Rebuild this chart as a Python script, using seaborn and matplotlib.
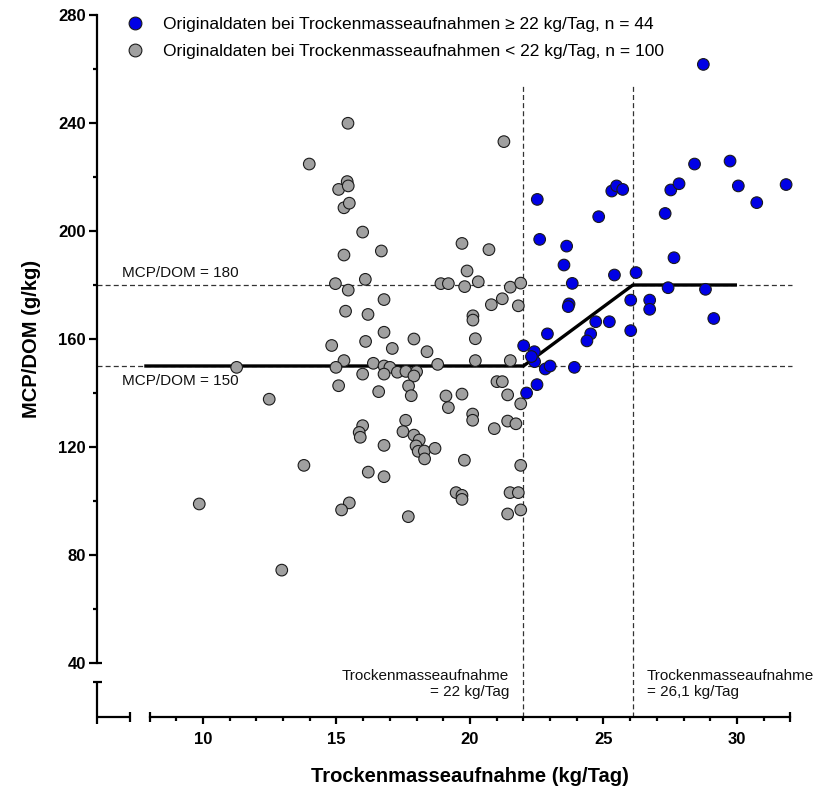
import numpy as np
import pandas as pd
import matplotlib
matplotlib.use("Agg")
import matplotlib.pyplot as plt
import seaborn as sns

# ---------------- data ----------------
gray_x = [15.43, 13.98, 15.40, 15.08, 15.44, 15.28, 15.48, 21.27, 15.98, 15.28,
          16.68, 19.70, 20.71, 14.96, 16.08, 15.44, 18.91, 19.19, 19.89, 19.80,
          20.31, 21.51, 21.90, 16.78, 15.34, 16.18, 20.80, 21.21, 21.81, 20.11,
          20.11, 16.78, 17.90, 20.20, 16.09, 14.82, 17.09, 18.39, 15.28, 14.98,
          16.38, 16.78, 17.00, 15.98, 16.78, 17.28, 17.60, 18.00, 17.90, 18.79,
          20.20, 21.51, 15.08, 16.58, 17.70, 17.80, 21.01, 21.21, 21.41, 19.10,
          19.70, 19.19, 21.90, 20.10, 20.10, 17.59, 17.49, 17.90, 18.10, 17.98,
          18.06, 18.29, 18.30, 18.69, 15.98, 15.85, 15.89, 16.78, 20.91, 21.41,
          21.72, 19.79, 21.90, 16.19, 16.78, 19.48, 19.70, 19.70, 21.50, 21.81,
          21.90, 21.41, 15.48, 15.19, 17.69, 11.26, 12.48, 13.78, 9.86, 12.95]
gray_y = [239.9, 224.8, 218.3, 215.4, 216.7, 208.6, 210.3, 233.1, 199.6, 191.1,
          192.6, 195.4, 193.1, 180.5, 182.1, 178.1, 180.5, 180.5, 185.2, 179.4,
          181.2, 179.2, 180.7, 174.6, 170.3, 169.1, 172.7, 174.9, 172.3, 168.6,
          167.0, 162.5, 160.0, 160.1, 159.1, 157.6, 156.5, 155.3, 152.0, 149.5,
          151.0, 150.0, 149.5, 147.0, 147.0, 147.7, 148.0, 147.9, 146.3, 150.6,
          152.0, 152.0, 142.7, 140.5, 142.6, 139.0, 144.2, 144.2, 139.3, 138.9,
          139.6, 134.6, 136.0, 132.2, 129.9, 129.9, 125.7, 124.4, 122.6, 120.4,
          118.4, 118.5, 115.6, 119.5, 127.9, 125.4, 123.6, 120.6, 126.8, 129.6,
          128.6, 115.1, 113.2, 110.7, 109.0, 103.1, 102.1, 100.6, 103.1, 103.1,
          96.7, 95.2, 99.3, 96.7, 94.2, 149.5, 137.7, 113.2, 98.9, 74.4]

blue_x = [22.52, 22.61, 23.62, 23.52, 23.83, 23.71, 23.68, 24.82, 25.31, 25.49,
          25.72, 25.41, 26.22, 26.02, 26.02, 24.71, 25.22, 24.52, 24.38, 22.90,
          22.01, 22.41, 22.42, 22.30, 22.82, 23.00, 23.91, 22.51, 22.12, 28.74,
          28.41, 29.74, 30.05, 31.84, 30.74, 27.52, 27.83, 27.31, 27.64, 27.42,
          28.82, 26.73, 26.73, 29.13]
blue_y = [211.7, 196.9, 194.4, 187.4, 180.6, 173.0, 172.0, 205.3, 214.8, 216.7,
          215.4, 183.7, 184.6, 174.4, 163.1, 166.4, 166.4, 161.9, 159.3, 161.9,
          157.5, 155.3, 151.6, 153.5, 148.9, 150.0, 149.5, 143.1, 140.0, 261.7,
          224.8, 225.9, 216.7, 217.2, 210.5, 215.2, 217.5, 206.5, 190.1, 179.0,
          178.4, 174.4, 171.0, 167.6]

label_hi = "Originaldaten bei Trockenmasseaufnahmen \u2265 22 kg/Tag, n = 44"
label_lo = "Originaldaten bei Trockenmasseaufnahmen < 22 kg/Tag, n = 100"

fit_x = [7.8, 22.0, 26.1, 30.0]
fit_y = [150, 150, 180, 180]
ref_levels = [180, 150]
ref_labels = ["MCP/DOM = 180", "MCP/DOM = 150"]
break_x = [22.0, 26.1]
break_labels = ["Trockenmasseaufnahme\n= 22 kg/Tag", "Trockenmasseaufnahme\n= 26,1 kg/Tag"]

x_major = [10, 15, 20, 25, 30]
x_minor = [9, 11, 12, 13, 14, 16, 17, 18, 19, 21, 22, 23, 24, 26, 27, 28, 29, 31]
y_major = [40, 80, 120, 160, 200, 240, 280]
y_minor = [60, 100, 140, 180, 220, 260]

# ---------------- style ----------------
sns.set_theme(style="ticks")
plt.rcParams["font.family"] = ["Liberation Sans", "DejaVu Sans"]
plt.rcParams["text.color"] = "black"
plt.rcParams["axes.labelcolor"] = "black"
plt.rcParams["xtick.color"] = "black"
plt.rcParams["ytick.color"] = "black"

W, H = 831, 788
fig = plt.figure(figsize=(W / 100, H / 100), dpi=100)
L, R, T, B = 97, 800, 15, 717
ax = fig.add_axes([L / W, 1 - B / H, (R - L) / W, (B - T) / H])

x0, x1 = 6.03, 32.36
y0, y1 = 20.0, 280.0
ax.set_xlim(x0, x1)
ax.set_ylim(y0, y1)
px_x = (x1 - x0) / (R - L)
px_y = (y1 - y0) / (B - T)

df = pd.DataFrame({
    "x": gray_x + blue_x,
    "y": gray_y + blue_y,
    "grp": [label_lo] * len(gray_x) + [label_hi] * len(blue_x),
})

dash_kw = dict(color="#333333", lw=0.9, linestyle=(0, (4, 2.5)), zorder=1)
for lv in ref_levels:
    ax.hlines(lv, x0, 32.05, **dash_kw)
for bx in break_x:
    ax.vlines(bx, y0, 254, **dash_kw)

ax.plot(fit_x, fit_y, color="black", lw=2.4, zorder=2, solid_capstyle="butt")

sns.scatterplot(data=df, x="x", y="y", hue="grp", hue_order=[label_hi, label_lo],
                palette={label_hi: "#0000e6", label_lo: "#a0a0a0"},
                s=70, edgecolor="#1a1a1a", linewidth=0.8, ax=ax, zorder=3)

# annotations
ax.text(6.97, 182.0, ref_labels[0], fontsize=11, ha="left", va="bottom", color="#111111")
ax.text(6.97, 147.0, ref_labels[1], fontsize=11, ha="left", va="top", color="#111111")
ax.text(21.46, 32.2, break_labels[0], fontsize=11, ha="right", va="center",
        multialignment="right", color="#111111", linespacing=1.25)
ax.text(26.63, 32.2, break_labels[1], fontsize=11, ha="left", va="center",
        multialignment="left", color="#111111", linespacing=1.25)

# axes / ticks
for s in ["top", "right"]:
    ax.spines[s].set_visible(False)
ax.spines["left"].set_bounds(40, 280)
ax.spines["bottom"].set_bounds(8, 32)
for s in ["left", "bottom"]:
    ax.spines[s].set_linewidth(1.6)
    ax.spines[s].set_color("black")

ax.set_xticks(x_major)
ax.set_xticks(x_minor, minor=True)
ax.set_yticks(y_major)
ax.set_yticks(y_minor, minor=True)
ax.tick_params(axis="x", which="major", direction="out", length=5, width=1.6, pad=5.5,
               labelsize=12, colors="black")
ax.tick_params(axis="x", which="minor", direction="out", length=3, width=1.6, colors="black")
ax.tick_params(axis="y", which="major", direction="out", length=6, width=1.6, pad=2,
               labelsize=12, colors="black")
ax.tick_params(axis="y", which="minor", direction="out", length=3, width=1.6, colors="black")
for lab in ax.get_xticklabels() + ax.get_yticklabels():
    lab.set_fontweight("bold")
ax.set_xlabel("")
ax.set_ylabel("")

# axis breaks
lk = dict(color="black", lw=1.6, clip_on=False, solid_capstyle="butt", zorder=5)
ax.plot([x0, x0], [y0 - 7 * px_y, 33], **lk)
ax.plot([x0 - 4 * px_x, x0 + 5 * px_x], [33, 33], **lk)
ax.plot([x0, x0 + 5 * px_x], [40, 40], **lk)
ax.plot([x0, 7.27], [y0, y0], **lk)
for cx in [7.27, 8, 32]:
    ax.plot([cx, cx], [y0 - 5 * px_y, y0 + 5 * px_y], **lk)

# axis titles
fig.text(32 / W, 1 - 339 / H, "MCP/DOM (g/kg)", rotation=90, ha="center", va="center",
         fontsize=14.5, fontweight="bold", color="black")
fig.text(470 / W, 1 - 776 / H, "Trockenmasseaufnahme (kg/Tag)", ha="center", va="center",
         fontsize=14.5, fontweight="bold", color="black")

# legend
handles, labels = ax.get_legend_handles_labels()
ax.legend(handles, labels, loc="upper left", bbox_to_anchor=(0.0417, 0.997),
          frameon=False, fontsize=12.5, handlelength=1.0, handletextpad=1.1,
          labelspacing=0.68, borderpad=0, borderaxespad=0, markerscale=1.1)

fig.savefig("out.png", dpi=100)
